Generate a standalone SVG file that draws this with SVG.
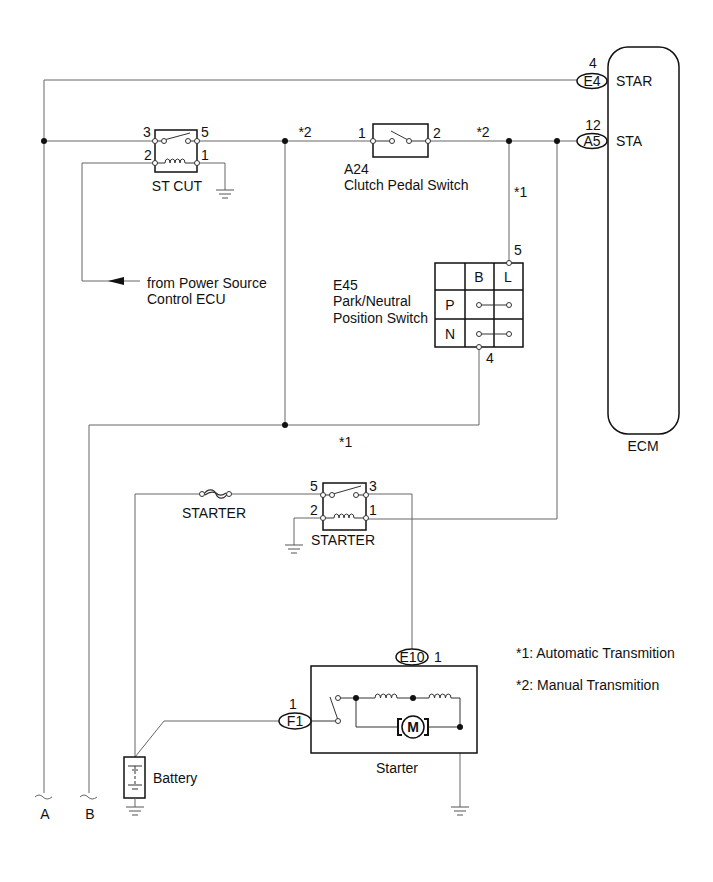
<svg xmlns="http://www.w3.org/2000/svg" width="713" height="882" viewBox="0 0 713 882">
<style>
.w{fill:none;stroke:#666;stroke-width:1}
.b{fill:none;stroke:#111;stroke-width:1.5}
.c{fill:#fff;stroke:#333;stroke-width:1}
.d{fill:#111}
.t{font-family:"Liberation Sans",Arial,sans-serif;font-size:14px;fill:#111}
.m{text-anchor:middle}
.g{fill:none;stroke:#555;stroke-width:1}
.o{fill:#fff;stroke:#111;stroke-width:1.5}
</style>
<rect width="713" height="882" fill="#fff"/>
<g id="connectors">
<path class="w" d="M44,793 V80 H577"/>
<path class="w" d="M44,141 H154"/>
<path class="w" d="M197,141 H373"/>
<path class="w" d="M428,141 H577"/>
<path class="w" d="M285,141 V425"/>
<path class="w" d="M89,793 V425 H479 V347"/>
<path class="w" d="M509,141 V263"/>
<path class="w" d="M557,141 V519 H366"/>
<path class="w" d="M154,163 H82 V281 H140"/>
<path fill="#111" d="M108,281 L124,277 L124,285 Z"/>
<path class="w" d="M197,163 H225 V190"/>
<path class="w" d="M135,757 V494 H202"/>
<path class="w" d="M229,494 H323"/>
<path class="w" d="M323,518 H294 V545"/>
<path class="w" d="M366,494 H412 V649"/>
<path class="w" d="M135,757 L164,721 H279"/>
<path class="w" d="M460,753 V807"/>
<circle class="d" cx="44" cy="141" r="3"/>
<circle class="d" cx="285" cy="141" r="3"/>
<circle class="d" cx="509" cy="141" r="3"/>
<circle class="d" cx="557" cy="141" r="3"/>
<circle class="d" cx="285" cy="425" r="3"/>
<path class="w" d="M35,797 q4,-4 8,0 q4,4 9,0"/>
<path class="w" d="M80,797 q4,-4 8,0 q4,4 9,0"/>
<text class="t m" x="45" y="819">A</text>
<text class="t m" x="90" y="819">B</text>
<text class="t m" x="305" y="137">*2</text>
<text class="t m" x="483" y="137">*2</text>
<text class="t" x="514" y="197">*1</text>
<text class="t" x="339" y="447">*1</text>
<text class="t" x="147" y="288">from Power Source</text>
<text class="t" x="147" y="304">Control ECU</text>
<path class="g" d="M216,190 h18 M219,194 h12 M222,198 h6"/>
<path class="g" d="M285,545 h18 M288,549 h12 M291,553 h6"/>
<path class="g" d="M451,807 h18 M454,811 h12 M457,815 h6"/>
</g>
<g id="ecm">
<rect class="b" x="608" y="47" width="71" height="387" rx="20"/>
<ellipse class="o" cx="592" cy="81" rx="15" ry="7.5"/>
<text class="t m" x="592" y="86">E4</text>
<text class="t m" x="593" y="68">4</text>
<text class="t" x="616" y="86">STAR</text>
<ellipse class="o" cx="592" cy="141" rx="15" ry="7.5"/>
<text class="t m" x="592" y="146">A5</text>
<text class="t m" x="593" y="130">12</text>
<text class="t" x="616" y="146">STA</text>
<text class="t m" x="643" y="451">ECM</text>
</g>
<g id="st-cut">
<rect class="b" x="155" y="130" width="42" height="42"/>
<path class="w" d="M154,163 H165 a2.5,4 0 0 1 5,0 a2.5,4 0 0 1 5,0 a2.5,4 0 0 1 5,0 a2.5,4 0 0 1 5,0 H197" style="stroke:#333"/>
<path class="w" d="M154,141 H163 M188,141 H197" style="stroke:#333"/>
<path class="w" d="M164,140 L190,133" style="stroke:#333"/>
<circle class="c" cx="155" cy="141" r="2.5"/>
<circle class="c" cx="164" cy="141" r="2.5"/>
<circle class="c" cx="188" cy="141" r="2.5"/>
<circle class="c" cx="197" cy="141" r="2.5"/>
<circle class="c" cx="155" cy="163" r="2.5"/>
<circle class="c" cx="197" cy="163" r="2.5"/>
<text class="t m" x="147" y="137">3</text>
<text class="t m" x="205" y="137">5</text>
<text class="t m" x="148" y="160">2</text>
<text class="t m" x="205" y="160">1</text>
<text class="t m" x="177" y="191">ST CUT</text>
</g>
<g id="clutch-switch">
<rect class="b" x="373" y="124" width="55" height="33"/>
<path class="w" d="M373,141 H392 M409,141 H428" style="stroke:#333"/>
<path class="w" d="M391,131 L408,140" style="stroke:#333"/>
<circle class="c" cx="373" cy="141" r="2.5"/>
<circle class="c" cx="392" cy="141" r="2.5"/>
<circle class="c" cx="409" cy="141" r="2.5"/>
<circle class="c" cx="428" cy="141" r="2.5"/>
<text class="t m" x="362" y="138">1</text>
<text class="t m" x="437" y="138">2</text>
<text class="t" x="344" y="174">A24</text>
<text class="t" x="344" y="190">Clutch Pedal Switch</text>
</g>
<g id="pn-switch">
<rect class="b" x="435" y="263" width="88" height="84"/>
<path class="b" d="M465,263 V347 M494,263 V347 M435,290 H523 M435,319 H523"/>
<path class="w" d="M479,305 H509 M479,334 H509" style="stroke:#333"/>
<circle class="c" cx="479" cy="305" r="2.5"/>
<circle class="c" cx="509" cy="305" r="2.5"/>
<circle class="c" cx="479" cy="334" r="2.5"/>
<circle class="c" cx="509" cy="334" r="2.5"/>
<circle class="c" cx="509" cy="263" r="2.5"/>
<circle class="c" cx="479" cy="347" r="2.5"/>
<text class="t m" x="479" y="282">B</text>
<text class="t m" x="508" y="282">L</text>
<text class="t m" x="450" y="310">P</text>
<text class="t m" x="450" y="339">N</text>
<text class="t m" x="518" y="255">5</text>
<text class="t m" x="490" y="363">4</text>
<text class="t" x="333" y="290">E45</text>
<text class="t" x="333" y="306">Park/Neutral</text>
<text class="t" x="333" y="323">Position Switch</text>
</g>
<g id="fuse-starter">
<path d="M204,494 C208,488 214,489 216,494 C218,499 224,500 227,494" fill="none" stroke="#333" stroke-width="1.2"/>
<path d="M205,495 C210,491 214,492 216,493 C219,496 222,496 226,493" fill="none" stroke="#333" stroke-width="1.2"/>
<circle class="c" cx="202" cy="494" r="2.5"/>
<circle class="c" cx="229" cy="494" r="2.5"/>
<text class="t m" x="214" y="518">STARTER</text>
</g>
<g id="starter-relay">
<rect class="b" x="323" y="483" width="43" height="47"/>
<path class="w" d="M323,518 H334 a2.5,4 0 0 1 5,0 a2.5,4 0 0 1 5,0 a2.5,4 0 0 1 5,0 a2.5,4 0 0 1 5,0 H366" style="stroke:#333"/>
<path class="w" d="M323,495 H332 M356,495 H366" style="stroke:#333"/>
<path class="w" d="M333,494 L361,486" style="stroke:#333"/>
<circle class="c" cx="323" cy="495" r="2.5"/>
<circle class="c" cx="332" cy="495" r="2.5"/>
<circle class="c" cx="356" cy="495" r="2.5"/>
<circle class="c" cx="366" cy="495" r="2.5"/>
<circle class="c" cx="323" cy="518" r="2.5"/>
<circle class="c" cx="366" cy="518" r="2.5"/>
<text class="t m" x="314" y="491">5</text>
<text class="t m" x="373" y="491">3</text>
<text class="t m" x="314" y="515">2</text>
<text class="t m" x="373" y="515">1</text>
<text class="t m" x="343" y="545">STARTER</text>
</g>
<g id="starter">
<rect class="b" x="311" y="666" width="166" height="87"/>
<path class="w" d="M311,721 H338" style="stroke:#333"/>
<path class="w" d="M338,720 L330,697" style="stroke:#333"/>
<path class="w" d="M338,698 H375 a2.75,4 0 0 1 5.5,0 a2.75,4 0 0 1 5.5,0 a2.75,4 0 0 1 5.5,0 a2.75,4 0 0 1 5.5,0 H429 a2.75,4 0 0 1 5.5,0 a2.75,4 0 0 1 5.5,0 a2.75,4 0 0 1 5.5,0 a2.75,4 0 0 1 5.5,0 H460 V727" style="stroke:#333"/>
<path class="w" d="M356,698 V727 H398 M428,727 H460" style="stroke:#333"/>
<circle class="c" cx="338" cy="721" r="2.5"/>
<circle class="c" cx="338" cy="698" r="2.5"/>
<circle class="d" cx="356" cy="698" r="3"/>
<circle class="d" cx="413" cy="698" r="3"/>
<circle class="d" cx="460" cy="727" r="3"/>
<path d="M402,719 h-4 v16 h4 M424,719 h4 v16 h-4" fill="none" stroke="#111" stroke-width="2"/>
<circle cx="413" cy="727" r="11" fill="#fff" stroke="#111" stroke-width="1.5"/>
<text class="t m" x="413" y="732" style="font-weight:bold">M</text>
<ellipse class="o" cx="412" cy="657" rx="16" ry="8"/>
<text class="t m" x="412" y="662">E10</text>
<text class="t m" x="438" y="662">1</text>
<ellipse class="o" cx="295" cy="721" rx="16" ry="8"/>
<text class="t m" x="295" y="726">F1</text>
<text class="t m" x="293" y="709">1</text>
<text class="t m" x="397" y="773">Starter</text>
</g>
<g id="battery">
<rect class="b" x="124" y="757" width="21" height="41"/>
<path d="M128,766 h14 M132,770 h6 M128,785 h14 M132,789 h6" stroke="#333" stroke-width="1" fill="none"/>
<path d="M135,766 V785" stroke="#333" stroke-width="1" stroke-dasharray="3,2" fill="none"/>
<path class="w" d="M135,798 V807"/>
<path class="g" d="M126,807 h18 M129,811 h12 M132,815 h6"/>
<text class="t" x="153" y="783">Battery</text>
</g>
<g id="legend">
<text class="t" x="516" y="658">*1: Automatic Transmition</text>
<text class="t" x="516" y="690">*2: Manual Transmition</text>
</g>
</svg>
